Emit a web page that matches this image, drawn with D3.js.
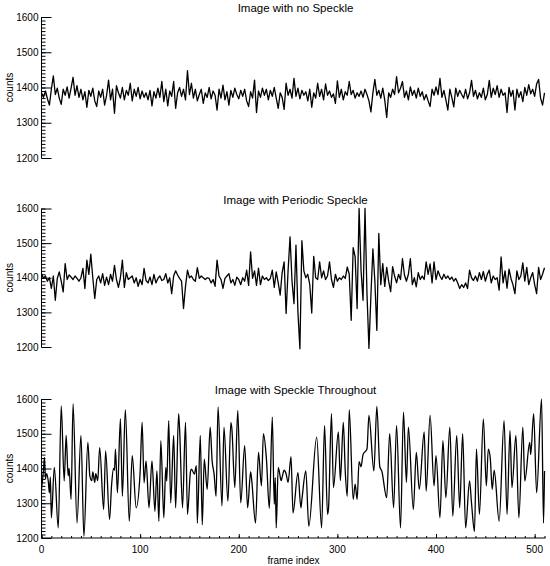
<!DOCTYPE html>
<html><head><meta charset="utf-8">
<script src="https://cdn.jsdelivr.net/npm/d3@7"></script>
<style>
body{margin:0;background:#fff}
svg{display:block}
text{font-family:"Liberation Sans",Arial,Helvetica,sans-serif;fill:#000}
</style>
</head><body><svg id="chart" width="550" height="566"></svg>
<script>
// ---------------- data ----------------
const panelTitles = ["Image with no Speckle", "Image with Periodic Speckle", "Image with Speckle Throughout"];
const yTickValues = [1200, 1300, 1400, 1500, 1600];
const xTickValues = [0, 100, 200, 300, 400, 500];
const xLabel = "frame index";
const yLabel = "counts";

// sampled every other frame
const framesNoSpeckle = d3.range(0, 512, 2);
const countsNoSpeckle = [
1385,1372,1390,1368,1350,1395,1433,1380,1398,1370,
1352,1395,1378,1402,1370,1398,1429,1378,1405,1372,
1395,1365,1388,1344,1392,1375,1398,1362,1346,1390,
1372,1395,1350,1378,1421,1365,1395,1327,1405,1385,
1370,1400,1365,1392,1378,1412,1362,1395,1375,1400,
1368,1390,1372,1385,1365,1392,1348,1388,1370,1398,
1372,1417,1360,1395,1348,1390,1375,1417,1341,1385,
1400,1375,1395,1365,1448,1380,1412,1370,1395,1362,
1380,1395,1355,1385,1372,1400,1368,1390,1378,1336,
1395,1370,1407,1365,1388,1350,1392,1372,1398,1380,
1368,1392,1375,1395,1362,1346,1388,1370,1421,1329,
1390,1372,1398,1378,1395,1365,1392,1375,1400,1370,
1341,1385,1372,1338,1412,1378,1395,1370,1426,1375,
1398,1368,1392,1378,1388,1362,1395,1344,1385,1370,
1412,1375,1395,1365,1410,1378,1390,1372,1382,1355,
1419,1372,1395,1365,1388,1378,1417,1380,1392,1370,
1385,1375,1390,1372,1395,1380,1362,1331,1385,1423,
1378,1392,1370,1398,1365,1315,1385,1372,1395,1380,
1431,1385,1398,1417,1372,1390,1365,1402,1378,1392,
1370,1398,1375,1388,1365,1380,1362,1346,1395,1378,
1402,1380,1426,1372,1392,1365,1336,1395,1372,1345,
1398,1375,1392,1380,1370,1395,1368,1385,1420,1375,
1392,1368,1385,1372,1398,1365,1380,1420,1372,1398,
1380,1405,1372,1395,1378,1385,1329,1400,1375,1392,
1336,1395,1372,1388,1360,1400,1378,1408,1382,1395,
1375,1410,1423,1370,1350,1385];

const framesPeriodic = d3.range(0, 512, 2);
const countsPeriodic = [
1412,1398,1405,1390,1400,1369,1405,1335,1398,1417,
1390,1359,1441,1395,1408,1402,1395,1405,1398,1390,
1400,1427,1369,1451,1410,1468,1400,1340,1395,1405,
1385,1412,1378,1402,1380,1410,1390,1436,1395,1372,
1400,1451,1372,1415,1395,1400,1405,1385,1400,1375,
1395,1380,1427,1392,1385,1402,1380,1410,1385,1398,
1405,1392,1395,1412,1385,1400,1354,1405,1420,1408,
1398,1390,1311,1375,1422,1400,1405,1395,1390,1429,
1398,1405,1400,1395,1400,1398,1385,1395,1375,1451,
1405,1395,1369,1398,1405,1412,1385,1395,1378,1402,
1395,1380,1400,1390,1422,1378,1475,1398,1420,1378,
1428,1380,1405,1395,1400,1392,1398,1422,1372,1417,
1385,1350,1415,1446,1297,1420,1518,1390,1325,1494,
1300,1195,1507,1420,1400,1410,1380,1298,1462,1400,
1395,1446,1400,1420,1395,1405,1446,1395,1372,1410,
1390,1400,1395,1405,1398,1431,1410,1277,1487,1460,
1311,1600,1420,1335,1600,1354,1196,1350,1483,1390,
1248,1528,1380,1441,1375,1430,1390,1360,1432,1405,
1385,1410,1395,1455,1408,1390,1410,1455,1380,1400,
1374,1415,1395,1405,1395,1446,1410,1440,1385,1446,
1395,1420,1405,1395,1410,1398,1405,1395,1402,1390,
1398,1385,1369,1380,1372,1385,1369,1422,1400,1392,
1405,1390,1415,1395,1418,1390,1410,1422,1385,1405,
1395,1400,1364,1460,1385,1420,1370,1425,1398,1380,
1354,1420,1395,1405,1443,1390,1430,1380,1400,1415,
1380,1354,1430,1395,1410,1429];

// turning points
const framesSpeckle = [
0,2,3,4,5,7,8,9,10,13, 17,20,23,25,27,28,30,32,36,40,
43,47,49,51,52,54,55,57,59,63, 65,69,71,73,74,75,77,80,82,85,
89,92,96,100,102,104,106,109,112,115, 117,119,121,124,126,127,129,131,134,136,
139,140,143,146,148,151,152,155,157,158, 161,163,165,168,171,173,175,177,179,183,
185,189,192,193,196,199,202,206,209,212, 213,217,220,223,225,228,231,234,236,237,
238,240,241,243,244,246,248,250,253,255, 260,263,264,268,271,279,284,287,290,291,
294,296,301,303,306,308,310,312,316,318, 320,322,324,326,330,332,337,340,343,345,
350,353,357,360,364,367,370,372,377,380, 383,388,390,394,398,400,404,407,410,414,
417,421,424,427,430,434,436,439,441,444, 448,451,453,455,457,459,464,469,472,475,
477,481,484,488,490,495,496,499,502,507, 509,510];
const countsSpeckle = [
1340,1395,1432,1370,1385,1360,1330,1375,1258,1403, 1229,1580,1364,1495,1379,1400,1311,1586,1243,1495,
1205,1475,1379,1365,1390,1360,1385,1365,1460,1282, 1451,1253,1350,1400,1395,1456,1330,1543,1320,1569,
1248,1437,1287,1390,1533,1359,1422,1287,1422,1277, 1393,1248,1480,1258,1403,1364,1538,1301,1495,1287,
1558,1514,1287,1533,1268,1390,1398,1384,1408,1243, 1495,1238,1427,1340,1519,1422,1384,1320,1577,1292,
1519,1306,1533,1515,1345,1567,1301,1466,1287,1390, 1370,1243,1446,1350,1500,1430,1285,1548,1297,1374,
1229,1403,1393,1365,1375,1395,1385,1360,1434,1272, 1388,1287,1310,1393,1234,1490,1229,1524,1268,1285,
1558,1345,1505,1365,1533,1390,1320,1569,1311,1355, 1311,1420,1405,1440,1456,1553,1393,1579,1405,1393,
1316,1500,1287,1524,1229,1562,1360,1519,1282,1446, 1340,1505,1335,1553,1350,1437,1258,1480,1316,1519,
1263,1495,1287,1500,1229,1364,1300,1219,1456,1268, 1543,1350,1456,1430,1340,1395,1248,1538,1268,1509,
1345,1495,1258,1519,1364,1475,1440,1558,1330,1600, 1243,1393];

// ---------------- drawing ----------------
const svg = d3.select("#chart");
svg.append("rect").attr("width", 550).attr("height", 566).attr("fill", "#fff");

const x = d3.scaleLinear().domain([0, 511]).range([41.5, 545.5]);

const panels = [
  {title: panelTitles[0], frames: framesNoSpeckle, counts: countsNoSpeckle, top: 17, bottom: 158, curve: d3.curveLinear, xAxis: false},
  {title: panelTitles[1], frames: framesPeriodic, counts: countsPeriodic, top: 208.5, bottom: 347, curve: d3.curveLinear, xAxis: false},
  {title: panelTitles[2], frames: framesSpeckle, counts: countsSpeckle, top: 399, bottom: 538, curve: d3.curveMonotoneX, xAxis: true}
];

panels.forEach(p => {
  const y = d3.scaleLinear().domain([1200, 1600]).range([p.bottom, p.top]);
  const g = svg.append("g");

  g.append("text").attr("x", (x.range()[0] + x.range()[1]) / 2 + 2).attr("y", p.top - 5)
    .attr("text-anchor", "middle").attr("font-size", 11.5).text(p.title);

  g.append("text").attr("transform", `translate(13,${(p.top + p.bottom) / 2}) rotate(-90)`)
    .attr("text-anchor", "middle").attr("font-size", 10).text(yLabel);

  const yAxisMinor = d3.axisRight(y).tickValues(d3.range(1200, 1601, 10)).tickSize(4).tickFormat("");
  const ga = g.append("g").attr("transform", `translate(${x(0)},0)`).call(yAxisMinor);
  ga.select(".domain").remove();
  const yAxisMajor = d3.axisRight(y).tickValues(yTickValues).tickSize(10).tickFormat("");
  const gb = g.append("g").attr("transform", `translate(${x(0)},0)`).call(yAxisMajor);
  gb.select(".domain").remove();
  g.append("line").attr("x1", x(0)).attr("x2", x(0)).attr("y1", y(1200)).attr("y2", y(1600))
    .attr("stroke", "#000").attr("stroke-width", 1);
  g.selectAll("g.tick line").attr("stroke", "#000").attr("stroke-width", 1);
  g.selectAll("text.ylab").data(yTickValues).join("text").attr("class", "ylab")
    .attr("x", x(0) - 3).attr("y", d => y(d) + 3.5).attr("text-anchor", "end")
    .attr("font-size", 10).text(d => d);

  if (p.xAxis) {
    const xa = g.append("g").attr("transform", `translate(0,${p.bottom})`);
    xa.call(d3.axisTop(x).tickValues(d3.range(0, 512, 10)).tickSize(2).tickFormat(""));
    xa.select(".domain").remove();
    const xb = g.append("g").attr("transform", `translate(0,${p.bottom})`);
    xb.call(d3.axisTop(x).tickValues(xTickValues).tickSize(4).tickFormat(""));
    xb.select(".domain").remove();
    g.selectAll("g.tick line").attr("stroke", "#000");
    g.append("line").attr("x1", x(0)).attr("x2", x(511)).attr("y1", p.bottom).attr("y2", p.bottom)
      .attr("stroke", "#000").attr("stroke-width", 1);
    g.selectAll("text.xlab").data(xTickValues).join("text").attr("class", "xlab")
      .attr("x", d => x(d)).attr("y", p.bottom + 15).attr("text-anchor", "middle")
      .attr("font-size", 10).text(d => d);
    g.append("text").attr("x", (x.range()[0] + x.range()[1]) / 2).attr("y", p.bottom + 26)
      .attr("text-anchor", "middle").attr("font-size", 10).text(xLabel);
  }

  const data = p.frames.map((f, i) => [f, p.counts[i]]);
  const line = d3.line().x(d => x(d[0])).y(d => y(d[1])).curve(p.curve);
  g.append("path").datum(data).attr("d", line).attr("fill", "none")
    .attr("stroke", "#000").attr("stroke-width", 1.3).attr("stroke-linejoin", "round");
});
</script>
</body></html>
